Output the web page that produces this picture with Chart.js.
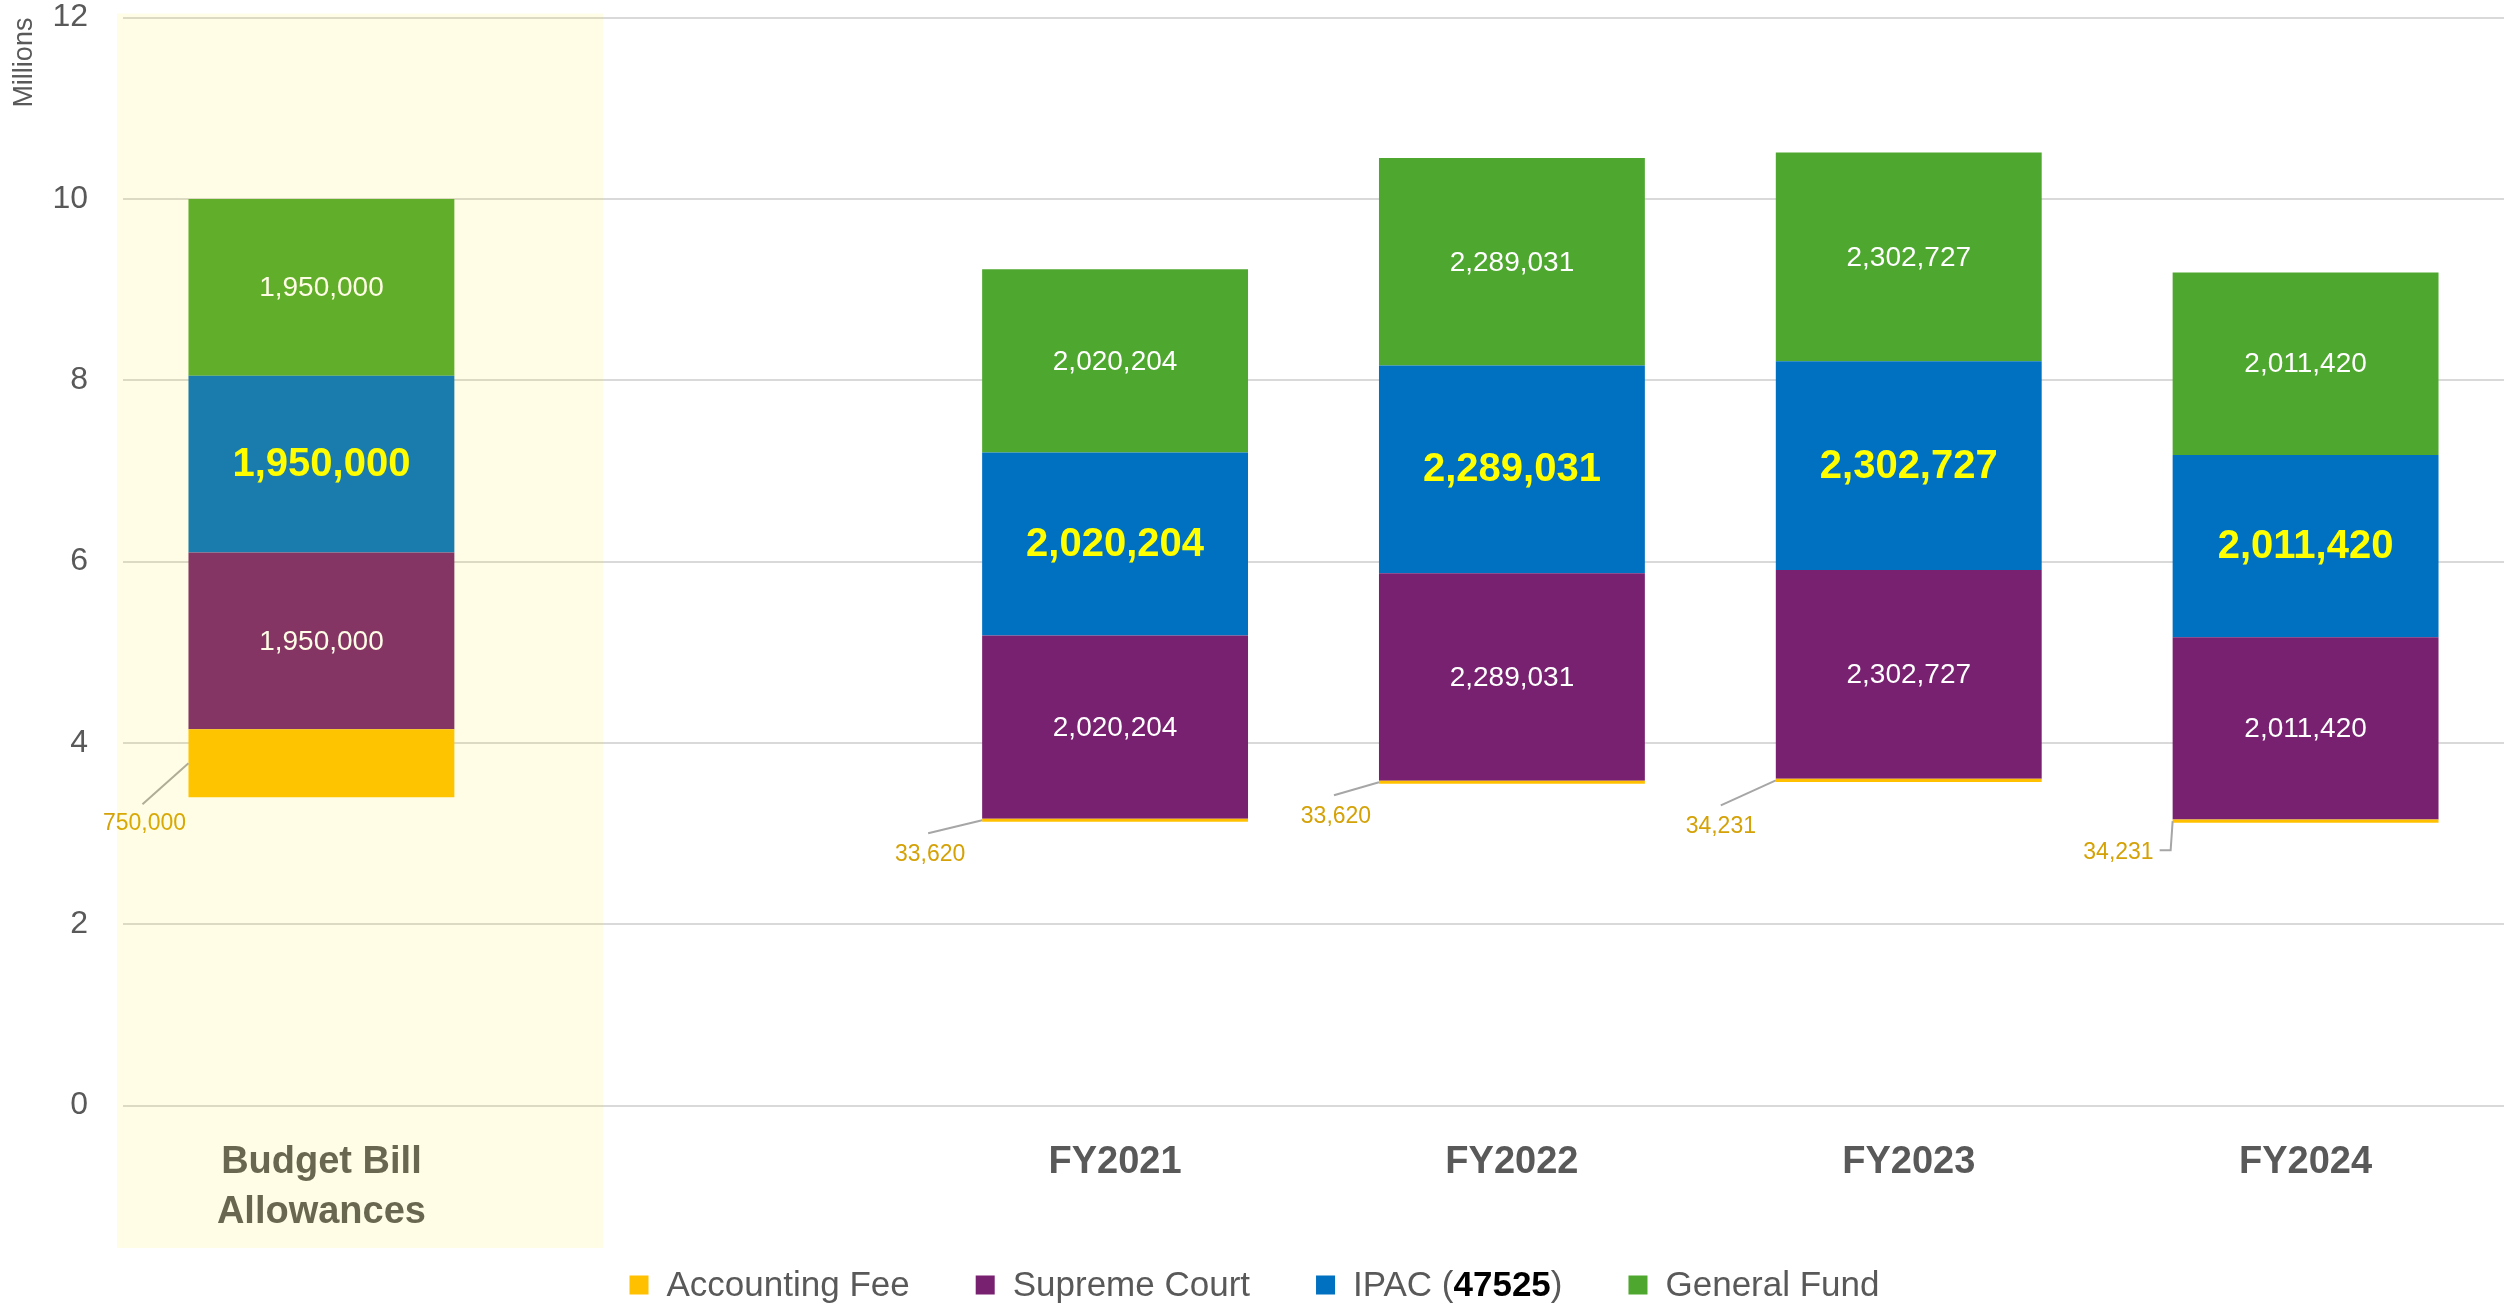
<!DOCTYPE html>
<html>
<head>
<meta charset="utf-8">
<script src="https://cdn.jsdelivr.net/npm/chart.js@4.4.1/dist/chart.umd.min.js"></script>
<style>
  html, body { margin: 0; padding: 0; background: #fff; }
  #chart { display: block; }
</style>
</head>
<body>
<canvas id="chart" width="2509" height="1304"></canvas>
<script>
// categories (empty slot between the budget bar and the fiscal years)
const categories = [["Budget Bill", "Allowances"], "", "FY2021", "FY2022", "FY2023", "FY2024"];

// invisible spacer under each stack
const spacer = [3400000, null, 3130000, 3550000, 3570000, 3120000];
const accountingFee = [750000, null, 33620, 33620, 34231, 34231];
const supremeCourt = [1950000, null, 2020204, 2289031, 2302727, 2011420];
const ipac = [1950000, null, 2020204, 2289031, 2302727, 2011420];
const generalFund = [1950000, null, 2020204, 2289031, 2302727, 2011420];

const yTicks = [0, 2, 4, 6, 8, 10, 12];

// where the small accounting fee labels sit, relative to the bar's left edge
const feeLabelLayout = [
  { line: [[-46, 41]], text: [-44, 60], align: "center" },
  null,
  { line: [[-54, 13]], text: [-52, 34], align: "center" },
  { line: [[-45, 13]], text: [-43, 34], align: "center" },
  { line: [[-55, 25]], text: [-55, 46], align: "center" },
  { line: [[-2, 29], [-13, 29]], text: [-19, 31], align: "right" },
];

const FONT = "'Liberation Sans', Arial, sans-serif";
const GREY = "#595959";

const fmt = (v) => v.toLocaleString("en-US");

const labelsPlugin = {
  id: "segmentLabels",
  afterDatasetsDraw(chart) {
    const ctx = chart.ctx;
    ctx.save();
    ctx.textAlign = "center";
    ctx.textBaseline = "middle";

    // white labels (supreme court, general fund) and bold yellow (ipac)
    [2, 3, 4].forEach(function (di) {
      const meta = chart.getDatasetMeta(di);
      const data = chart.data.datasets[di].data;
      meta.data.forEach(function (bar, i) {
        if (data[i] == null) return;
        const y = (bar.y + bar.base) / 2;
        if (di === 3) {
          ctx.font = "bold 40px " + FONT;
          ctx.fillStyle = "#FFFF00";
        } else {
          ctx.font = "28px " + FONT;
          ctx.fillStyle = "#FFFFFF";
        }
        ctx.fillText(fmt(data[i]), bar.x, y + 1);
      });
    });

    // accounting fee labels with leader lines
    const feeMeta = chart.getDatasetMeta(1);
    feeMeta.data.forEach(function (bar, i) {
      const lay = feeLabelLayout[i];
      if (!lay || accountingFee[i] == null) return;
      const x0 = bar.x - bar.width / 2;
      const y0 = (bar.y + bar.base) / 2;
      ctx.strokeStyle = "#A6A6A6";
      ctx.lineWidth = 2;
      ctx.beginPath();
      ctx.moveTo(x0, y0);
      lay.line.forEach(function (p) {
        ctx.lineTo(x0 + p[0], y0 + p[1]);
      });
      ctx.stroke();
      ctx.font = "23px " + FONT;
      ctx.fillStyle = "#D4A106";
      ctx.textAlign = lay.align;
      ctx.fillText(fmt(accountingFee[i]), x0 + lay.text[0], y0 + lay.text[1]);
    });
    ctx.restore();
  },
  afterDraw(chart) {
    const ctx = chart.ctx;
    const area = chart.chartArea;
    const catW = area.width / categories.length;

    // pale highlight laid over the budget column
    ctx.save();
    ctx.fillStyle = "rgba(255, 240, 0, 0.1)";
    ctx.fillRect(area.left - 6, area.top - 4, catW * 1.225, 1248 - area.top + 4);
    ctx.restore();

    // legend, drawn by hand so "47525" can be bold
    const items = [
      { color: "#FFC000", parts: [{ t: "Accounting Fee" }] },
      { color: "#782170", parts: [{ t: "Supreme Court" }] },
      { color: "#0070C0", parts: [{ t: "IPAC (" }, { t: "47525", bold: true }, { t: ")" }] },
      { color: "#4EA72E", parts: [{ t: "General Fund" }] },
    ];
    const box = 19, boxGap = 18, itemGap = 66;
    ctx.save();
    let total = 0;
    items.forEach(function (it) {
      it.w = 0;
      it.parts.forEach(function (p) {
        ctx.font = (p.bold ? "bold " : "") + "35px " + FONT;
        p.w = ctx.measureText(p.t).width;
        it.w += p.w;
      });
      total += box + boxGap + it.w;
    });
    total += itemGap * (items.length - 1);
    let x = chart.width / 2 - total / 2;
    const y = 1285;
    ctx.textBaseline = "middle";
    ctx.textAlign = "left";
    items.forEach(function (it) {
      ctx.fillStyle = it.color;
      ctx.fillRect(x, y - box / 2, box, box);
      x += box + boxGap;
      it.parts.forEach(function (p) {
        ctx.font = (p.bold ? "bold " : "") + "35px " + FONT;
        ctx.fillStyle = p.bold ? "#000000" : GREY;
        ctx.fillText(p.t, x, y + 1);
        x += p.w;
      });
      x += itemGap;
    });
    ctx.restore();
  },
};

const ctx = document.getElementById("chart").getContext("2d");
new Chart(ctx, {
  type: "bar",
  data: {
    labels: categories,
    datasets: [
      { label: "spacer", data: spacer, backgroundColor: "rgba(0,0,0,0)" },
      { label: "Accounting Fee", data: accountingFee, backgroundColor: "#FFC000" },
      { label: "Supreme Court", data: supremeCourt, backgroundColor: "#782170" },
      { label: "IPAC (47525)", data: ipac, backgroundColor: "#0070C0" },
      { label: "General Fund", data: generalFund, backgroundColor: "#4EA72E" },
    ],
  },
  options: {
    responsive: false,
    animation: false,
    devicePixelRatio: 1,
    datasets: {
      bar: { barPercentage: 0.67, categoryPercentage: 1, borderWidth: 0 },
    },
    layout: { padding: { top: 17.6, right: 5, left: 0, bottom: 0 } },
    plugins: {
      legend: { display: false },
      tooltip: { enabled: false },
    },
    scales: {
      x: {
        stacked: true,
        grid: { display: false, drawTicks: false },
        border: { display: false },
        ticks: {
          padding: 31,
          color: GREY,
          font: { family: FONT, size: 38, weight: "bold", lineHeight: 1.34 },
          maxRotation: 0,
          autoSkip: false,
        },
        afterFit(scale) {
          scale.height = 198.4;
        },
      },
      y: {
        stacked: true,
        min: 0,
        max: 12000000,
        afterBuildTicks(scale) {
          scale.ticks = yTicks.map((v) => ({ value: v * 1000000 }));
        },
        grid: { color: "#D9D9D9", lineWidth: 2, drawTicks: false },
        border: { display: false },
        ticks: {
          padding: 35,
          color: GREY,
          font: { family: FONT, size: 32 },
          callback: (v) => String(v / 1000000),
        },
        title: {
          display: true,
          text: "Millions",
          align: "end",
          color: GREY,
          font: { family: FONT, size: 27 },
          padding: { top: 8, bottom: 0 },
        },
        afterFit(scale) {
          scale.width = 123;
          // keep the tick padding from pushing the plot area down
          scale.paddingTop = 0;
          scale.paddingBottom = 0;
        },
      },
    },
  },
  plugins: [labelsPlugin],
});
</script>
</body>
</html>
